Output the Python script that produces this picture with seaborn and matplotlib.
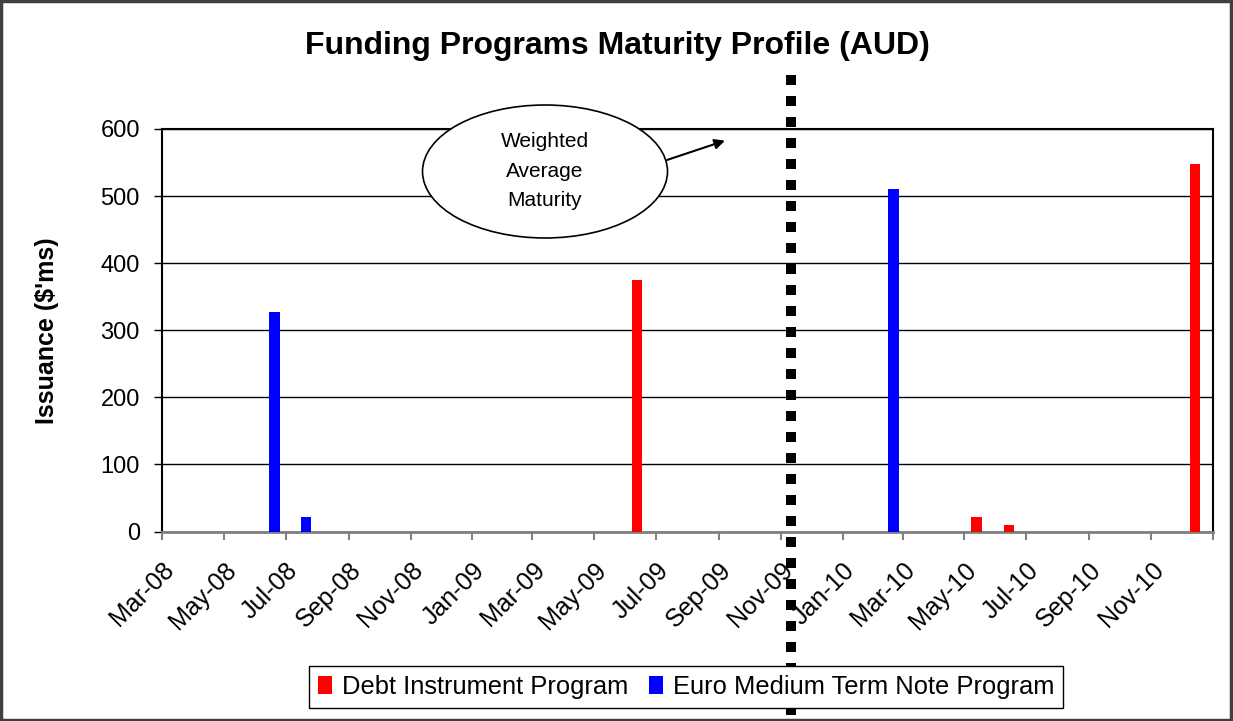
import matplotlib
matplotlib.use('Agg')
import matplotlib.pyplot as plt
import matplotlib.dates as mdates
from matplotlib.patches import Ellipse, Rectangle
import seaborn as sns
import pandas as pd

# maturity dates, issuance ($m) and program of each bar
maturity_dates = ['2008-06-20', '2008-07-21', '2009-06-12', '2010-02-20',
                  '2010-05-13', '2010-06-14', '2010-12-14']
issuance = [327, 22, 375, 510, 22, 10, 548]
programs = ['Euro Medium Term Note Program', 'Euro Medium Term Note Program',
            'Debt Instrument Program', 'Euro Medium Term Note Program',
            'Debt Instrument Program', 'Debt Instrument Program',
            'Debt Instrument Program']
program_order = ['Debt Instrument Program', 'Euro Medium Term Note Program']
program_colors = ['#FF0000', '#0000FF']

# weighted average maturity marker
wam_date = '2009-11-11'

x_tick_dates = ['2008-03-01', '2008-05-01', '2008-07-01', '2008-09-01', '2008-11-01',
                '2009-01-01', '2009-03-01', '2009-05-01', '2009-07-01', '2009-09-01',
                '2009-11-01', '2010-01-01', '2010-03-01', '2010-05-01', '2010-07-01',
                '2010-09-01', '2010-11-01', '2011-01-01']
x_tick_labels = ['Mar-08', 'May-08', 'Jul-08', 'Sep-08', 'Nov-08', 'Jan-09', 'Mar-09',
                 'May-09', 'Jul-09', 'Sep-09', 'Nov-09', 'Jan-10', 'Mar-10', 'May-10',
                 'Jul-10', 'Sep-10', 'Nov-10', '']
y_ticks = [0, 100, 200, 300, 400, 500, 600]

sns.set_style('white')
plt.rcParams['font.family'] = ['Liberation Sans', 'DejaVu Sans']
plt.rcParams['text.color'] = 'black'
plt.rcParams['axes.labelcolor'] = 'black'
plt.rcParams['xtick.color'] = 'black'
plt.rcParams['ytick.color'] = 'black'

df = pd.DataFrame({
    'date': mdates.datestr2num(maturity_dates),
    'issuance': issuance,
    'program': programs,
})

fig = plt.figure(figsize=(12.33, 7.21), dpi=100)
ax = fig.add_axes([0.1314, 0.2628, 0.8524, 0.5583])

sns.barplot(data=df, x='date', y='issuance', hue='program', hue_order=program_order,
            palette=dict(zip(program_order, program_colors)), native_scale=True,
            errorbar=None, linewidth=0, saturation=1, ax=ax, zorder=3)

# bars about ten days wide
bar_days = 10.3
for p in ax.patches:
    c = p.get_x() + p.get_width() / 2
    p.set_width(bar_days)
    p.set_x(c - bar_days / 2)

ax.set_xlim(mdates.datestr2num(x_tick_dates[0]), mdates.datestr2num(x_tick_dates[-1]))
ax.set_ylim(0, 600)
ax.set_xticks(mdates.datestr2num(x_tick_dates))
ax.set_xticklabels(x_tick_labels)
ax.set_yticks(y_ticks)
ax.set_xlabel('')
ax.set_ylabel("Issuance ($'ms)", fontsize=18, fontweight='bold')
ax.yaxis.set_label_coords(-0.098, 0.5)

ax.tick_params(axis='x', direction='out', length=6, width=1.5, color='#808080',
               labelcolor='black', pad=13, bottom=True)
ax.tick_params(axis='y', direction='out', length=6, width=1, color='black',
               labelsize=17, pad=10, left=True)
plt.setp(ax.get_xticklabels(), rotation=45, ha='right', rotation_mode='anchor',
         fontsize=18)

ax.yaxis.grid(True, color='black', linewidth=1)
ax.xaxis.grid(False)
ax.set_axisbelow(True)
for side in ['left', 'top', 'right']:
    ax.spines[side].set_color('black')
    ax.spines[side].set_linewidth(1.5)
ax.spines['bottom'].set_color('#808080')
ax.spines['bottom'].set_linewidth(2)

# dotted weighted average maturity line running past the plot area
ax.axvline(mdates.datestr2num(wam_date), ymin=-0.456, ymax=1.16, color='black',
           linewidth=7.2, linestyle=(0, (1, 1.1)), clip_on=False, zorder=6)

# callout bubble
ell = Ellipse((0.3644, 0.8944), 0.2331, 0.3304, transform=ax.transAxes,
              facecolor='white', edgecolor='black', linewidth=1.2,
              clip_on=False, zorder=7)
ax.add_patch(ell)
ax.text(0.3644, 0.8944, 'Weighted\nAverage\nMaturity', transform=ax.transAxes,
        ha='center', va='center', fontsize=15, linespacing=1.7, zorder=8)
ax.annotate('', xy=(0.5356, 0.9710), xytext=(0.4805, 0.9230),
            xycoords='axes fraction', textcoords='axes fraction',
            arrowprops=dict(arrowstyle='-|>', color='black', lw=1.5,
                            mutation_scale=15, shrinkA=0, shrinkB=0),
            zorder=8, annotation_clip=False)

fig.text(0.5008, 0.936, 'Funding Programs Maturity Profile (AUD)', ha='center',
         va='center', fontsize=23, fontweight='bold')

leg = ax.get_legend()
handles = leg.legend_handles
labels = [t.get_text() for t in leg.get_texts()]
leg.remove()
flg = fig.legend(handles, labels, loc='center', bbox_to_anchor=(0.5564, 0.0472),
                 ncol=2, frameon=True, fancybox=False, edgecolor='black',
                 framealpha=1, fontsize=18.4, handlelength=0.55, handleheight=0.75,
                 handletextpad=0.4, columnspacing=0.8, borderpad=0.35)
flg.get_frame().set_linewidth(1.0)

fig.patches.append(Rectangle((0.001, 0.0015), 0.997, 0.997, transform=fig.transFigure,
                             fill=False, edgecolor='#404040', linewidth=2.5))

fig.savefig('out.png', dpi=100)
